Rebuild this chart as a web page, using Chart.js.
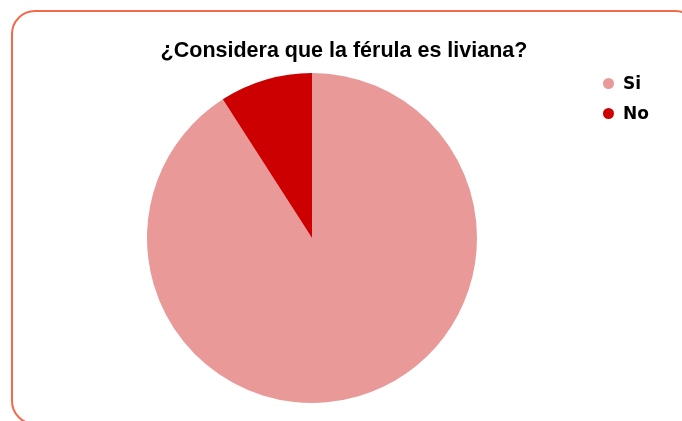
<!DOCTYPE html>
<html>
<head>
<meta charset="utf-8">
<script src="https://cdn.jsdelivr.net/npm/chart.js@4.4.0/dist/chart.umd.min.js"></script>
<style>
  html, body { margin: 0; padding: 0; background: #fff; overflow: hidden; }
  #wrap { position: relative; width: 682px; height: 421px; overflow: hidden;
          font-family: 'Liberation Sans', Arial, sans-serif; }
  #frame {
    position: absolute; left: 11px; top: 10px; width: 688px; height: 415px;
    border: 2px solid #f26a4b; border-radius: 24px; box-sizing: border-box;
  }
  #chart { position: absolute; left: 0; top: 0; }
  #titulo {
    position: absolute; left: 0; width: 688px; top: 37px; text-align: center;
    font-weight: bold; font-size: 21.5px; color: #000; line-height: 26px;
  }
  #leyenda { position: absolute; left: 603px; top: 68px; }
  .item { height: 30px; display: flex; align-items: center; font-weight: bold;
          font-family: 'DejaVu Sans', sans-serif; font-size: 17px; color: #000; }
  .punto { width: 11px; height: 11px; border-radius: 50%; margin-right: 9px; }
</style>
</head>
<body>
<div id="wrap">
  <div id="frame"></div>
  <canvas id="chart" width="682" height="421"></canvas>
  <div id="titulo"></div>
  <div id="leyenda"></div>
</div>
<script>
// Respuestas a la pregunta sobre el peso de la férula
const titulo = '¿Considera que la férula es liviana?';
const categorias = ['Si', 'No'];
const respuestas = [10, 1];
const colores = ['#e99998', '#cc0000'];

document.getElementById('titulo').textContent = titulo;

const canvas = document.getElementById('chart');
const grafico = new Chart(canvas, {
    type: 'pie',
    data: {
        labels: categorias,
        datasets: [{
            data: respuestas,
            backgroundColor: colores,
            borderWidth: 0
        }]
    },
    options: {
        responsive: false,
        animation: false,
        layout: {
            padding: { left: 0, right: 58, top: 73, bottom: 18 }
        },
        plugins: {
            legend: { display: false },
            title: { display: false },
            tooltip: { enabled: false }
        }
    }
});

// Leyenda a la derecha, armada con las etiquetas del propio gráfico
const leyenda = document.getElementById('leyenda');
grafico.options.plugins.legend.labels.generateLabels(grafico).forEach(et => {
    const fila = document.createElement('div');
    fila.className = 'item';
    const punto = document.createElement('span');
    punto.className = 'punto';
    punto.style.background = et.fillStyle;
    fila.appendChild(punto);
    fila.appendChild(document.createTextNode(et.text));
    leyenda.appendChild(fila);
});
</script>
</body>
</html>
